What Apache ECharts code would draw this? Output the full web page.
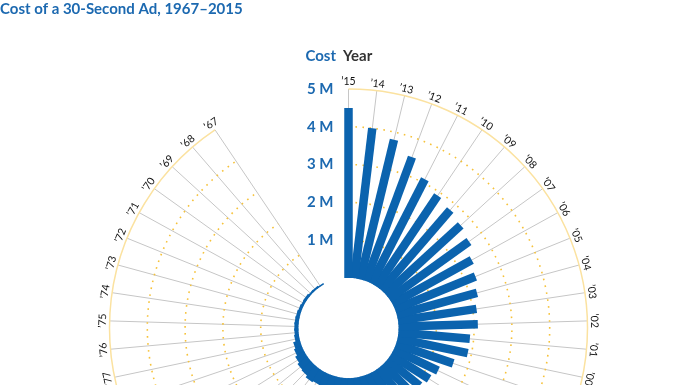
<!DOCTYPE html>
<html><head><meta charset="utf-8">
<script src="https://cdn.jsdelivr.net/npm/echarts@6/dist/echarts.min.js"></script>
<style>html,body{margin:0;padding:0;background:#fff}#c{width:696px;height:385px}</style>
</head><body><div id="c"></div>
<script>
// Years (chronological) and cost of a 30-second ad, in millions of dollars
const years = ['’67','’68','’69','’70','’71','’72','’73','’74','’75','’76','’77','’78','’79',
  '’80','’81','’82','’83','’84','’85','’86','’87','’88','’89','’90','’91','’92','’93','’94',
  '’95','’96','’97','’98','’99','’00','’01','’02','’03','’04','’05','’06','’07','’08','’09',
  '’10','’11','’12','’13','’14','’15'];
const costs = [0.04,0.054,0.055,0.078,0.072,0.086,0.10,0.107,0.11,0.11,0.125,0.185,0.222,
  0.275,0.324,0.345,0.40,0.368,0.525,0.55,0.60,0.645,0.675,0.70,0.80,0.85,0.85,0.90,
  1.0,1.1,1.2,1.3,1.6,1.9,1.9,2.1,2.1,2.2,2.3,2.4,2.6,2.7,2.8,
  2.9,3.1,3.5,3.8,4.0,4.5];
const gapSlots = ['gap1','gap2','gap3','gap4'];
const dottedRings = [1,2,3,4];
const outerRing = 5;
const radiusTickLabels = ['', '1 M', '2 M', '3 M', '4 M', '5 M'];

const BLUE = '#0b63ae';
const TEXT_BLUE = '#1c69b0';

const angleCats = years.slice().reverse().concat(gapSlots);
const idxLatest = angleCats.indexOf(years[years.length - 1]);
const idxFirst = angleCats.indexOf(years[0]);

const chart = echarts.init(document.getElementById('c'), null, {renderer: 'canvas'});

const option = {
  animation: false,
  polar: { center: [348.5, 328], radius: [50, 239] },
  angleAxis: {
    type: 'category', data: angleCats, startAngle: 90, clockwise: true, boundaryGap: false,
    axisLine: {show: false}, axisTick: {show: false}, axisLabel: {show: false}, splitLine: {show: false}
  },
  radiusAxis: {
    type: 'value', min: 0, max: 5, interval: 1,
    axisLine: {show: false}, axisTick: {show: false}, splitLine: {show: false},
    axisLabel: {
      margin: 15, color: TEXT_BLUE, fontFamily: 'Lato', fontWeight: 'bold', fontSize: 15,
      formatter: function (v) { return radiusTickLabels[Math.round(v)] || ''; }
    }
  },
  graphic: [
    { type: 'text', x: 0, y: 9, style: { text: 'Cost of a 30-Second Ad, 1967–2015', font: 'bold 15px Lato', fill: TEXT_BLUE, align: 'left', verticalAlign: 'middle' } },
    { type: 'text', x: 336, y: 56, style: { text: 'Cost', font: 'bold 15px Lato', fill: TEXT_BLUE, align: 'right', verticalAlign: 'middle' } },
    { type: 'text', x: 343, y: 56, style: { text: 'Year', font: 'bold 15px Lato', fill: '#333333', align: 'left', verticalAlign: 'middle' } }
  ],
  series: [
    { // spokes
      type: 'custom', coordinateSystem: 'polar', silent: true, z: 1,
      encode: {radius: 0, angle: 1},
      data: years.map(function (y) { return [outerRing, y]; }),
      renderItem: function (params, api) {
        const a = api.value(1);
        const p0 = api.coord([0, a]);
        const p1 = api.coord([api.value(0), a]);
        return { type: 'line', shape: {x1: p0[0], y1: p0[1], x2: p1[0], y2: p1[1]},
          style: {stroke: '#c6c6c6', lineWidth: 1} };
      }
    },
    { // rings
      type: 'custom', coordinateSystem: 'polar', silent: true, z: 2,
      encode: {radius: 0, angle: 1},
      data: dottedRings.concat([outerRing]).map(function (v) { return [v, years[years.length - 1]]; }),
      renderItem: function (params, api) {
        const cs = params.coordSys;
        const v = api.value(0);
        const pA = api.coord([v, idxLatest]);
        const pB = api.coord([v, idxFirst]);
        const r = Math.hypot(pA[0] - cs.cx, pA[1] - cs.cy);
        const a0 = Math.atan2(pA[1] - cs.cy, pA[0] - cs.cx);
        let a1 = Math.atan2(pB[1] - cs.cy, pB[0] - cs.cx);
        while (a1 < a0) a1 += Math.PI * 2;
        const solid = v === outerRing;
        return { type: 'arc', shape: {cx: cs.cx, cy: cs.cy, r: r, startAngle: a0, endAngle: a1, clockwise: true},
          style: solid ? {fill: null, stroke: '#fbe2a0', lineWidth: 1.5}
                       : {fill: null, stroke: '#f6c23a', lineWidth: 1.6, lineDash: [1.6, 5.4]} };
      }
    },
    { // bars
      type: 'custom', coordinateSystem: 'polar', silent: true, z: 3,
      encode: {radius: 0, angle: 1},
      data: years.map(function (y, i) { return [costs[i], y]; }),
      renderItem: function (params, api) {
        const a = api.value(1);
        const p0 = api.coord([0, a]);
        const p1 = api.coord([api.value(0), a]);
        return { type: 'line', shape: {x1: p0[0], y1: p0[1], x2: p1[0], y2: p1[1]},
          style: {stroke: BLUE, lineWidth: 8.5, lineCap: 'butt'} };
      }
    },
    { // year labels
      type: 'custom', coordinateSystem: 'polar', silent: true, z: 4,
      encode: {radius: 0, angle: 1},
      data: years.map(function (y) { return [outerRing, y]; }),
      renderItem: function (params, api) {
        const cs = params.coordSys;
        const p = api.coord([api.value(0), api.value(1)]);
        const dx = p[0] - cs.cx, dy = p[1] - cs.cy;
        const th = Math.atan2(dy, dx);
        const rr = Math.hypot(dx, dy) + 7;
        return { type: 'text', x: cs.cx + rr * Math.cos(th), y: cs.cy + rr * Math.sin(th),
          rotation: -(th + Math.PI / 2),
          style: { text: years[params.dataIndex], fill: '#111111', font: '10.5px Lato', align: 'center', verticalAlign: 'middle' } };
      }
    }
  ]
};
chart.setOption(option);
</script>
</body></html>
